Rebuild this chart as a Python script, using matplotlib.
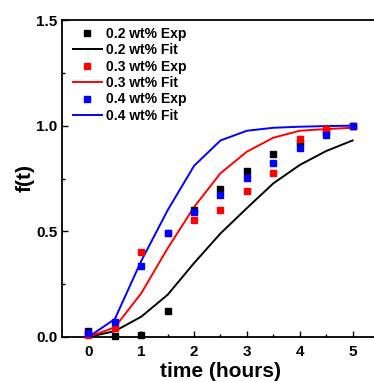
import numpy as np
import matplotlib.pyplot as plt

plt.rcParams['font.family'] = ['Liberation Sans', 'DejaVu Sans']
plt.rcParams['font.weight'] = 'bold'

# time points (hours)
t = [0, 0.5, 1, 1.5, 2, 2.5, 3, 3.5, 4, 4.5, 5]

# experimental data
exp_02 = [0.03, 0.005, 0.01, 0.123, 0.60, 0.70, 0.786, 0.866, 0.917, 0.97, 1.0]
exp_03 = [0.01, 0.044, 0.40, 0.49, 0.555, 0.60, 0.69, 0.778, 0.936, 0.984, 1.0]
exp_04 = [0.02, 0.072, 0.337, 0.49, 0.59, 0.673, 0.752, 0.822, 0.893, 0.955, 1.0]

# fitted curves
fit_02 = [0.0, 0.028, 0.096, 0.20, 0.35, 0.49, 0.61, 0.727, 0.814, 0.88, 0.93]
fit_03 = [0.0, 0.046, 0.207, 0.42, 0.615, 0.775, 0.877, 0.943, 0.976, 0.984, 0.99]
fit_04 = [0.0, 0.085, 0.36, 0.60, 0.81, 0.93, 0.976, 0.99, 0.995, 0.998, 1.0]

labels = ['0.2 wt%', '0.3 wt%', '0.4 wt%']
colors = ['black', '#ff0000', '#0000ff']

fig = plt.figure(figsize=(3.74, 3.81), dpi=100)
ax = fig.add_axes([62 / 374, 1 - 337 / 381, 317 / 374, 317 / 381])

series = [(exp_02, fit_02), (exp_03, fit_03), (exp_04, fit_04)]
for (ex, ft), lab, c in zip(series, labels, colors):
    ax.plot(t, ex, 's', color=c, markersize=5, label=f'{lab} Exp', clip_on=False, zorder=3)
    ax.plot(t, ft, '-', color=c, linewidth=1.4, label=f'{lab} Fit')

ax.set_xlim(-0.5, 5.5)
ax.set_ylim(0, 1.5)
ax.set_xticks([0, 1, 2, 3, 4, 5])
ax.set_xticks(np.arange(0.5, 5.0, 1.0), minor=True)
ax.set_yticks([0.0, 0.5, 1.0, 1.5])
ax.set_yticks([0.25, 0.75, 1.25], minor=True)
ax.set_yticklabels(['0.0', '0.5', '1.0', '1.5'])
ax.tick_params(which='both', direction='in', labelsize=11, width=1.0)
ax.tick_params(which='major', length=4)
ax.tick_params(which='minor', length=2)
ax.tick_params(axis='x', pad=6)
for s in ax.spines.values():
    s.set_linewidth(1.3)

ax.set_xlabel('time (hours)', fontsize=15, fontweight='bold', labelpad=2)
ax.set_ylabel('f(t)', fontsize=15, fontweight='bold', labelpad=1)

ax.legend(loc='upper left', frameon=False, fontsize=10, handlelength=2.1,
          handletextpad=0.3, labelspacing=0.17, borderaxespad=0.1,
          bbox_to_anchor=(0.012, 1.0))

fig.savefig('out.png', dpi=100)
